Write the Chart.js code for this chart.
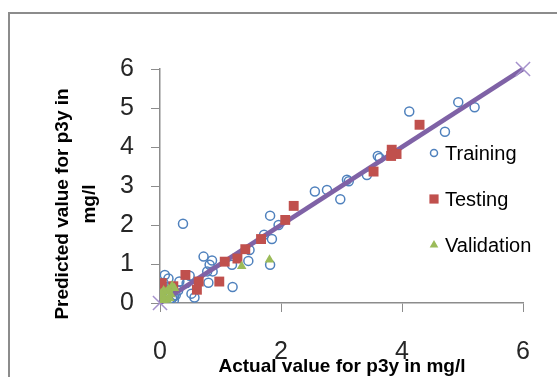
<!DOCTYPE html>
<html>
<head>
<meta charset="utf-8">
<script src="https://cdn.jsdelivr.net/npm/chart.js@4.4.1/dist/chart.umd.min.js"></script>
<style>
  html, body { margin: 0; padding: 0; background: #fff; }
  body { width: 557px; height: 377px; overflow: hidden; position: relative; }
  #frame { position: absolute; left: 8px; top: 12px; width: 620px; height: 420px; border: 2px solid #8c8c8c; }
  #wrap { position: absolute; left: 0; top: 0; width: 557px; height: 377px; }
</style>
</head>
<body>
<div id="frame"></div>
<div id="wrap"><canvas id="graph"></canvas></div>
<script>
// values
let trainingX = [0.03, 0.05, 0.10, 0.15, 0.20, 0.26, 0.30, 0.08, 0.14, 0.32, 0.06, 0.44, 0.49, 0.52, 0.57, 0.23, 0.23,
  0.72, 0.86, 0.82, 0.78, 0.87, 0.80, 1.20, 1.19, 1.46, 1.48, 1.72, 1.82, 1.85, 1.96, 1.82, 0.38,
  2.56, 2.76, 2.98, 3.09, 3.12, 3.42, 3.60, 3.63, 4.12, 4.71, 4.93, 5.20];
let trainingY = [0.45, 0.30, 0.20, 0.05, 0.12, 0.20, 0.32, 0.72, 0.63, 0.55, 0.51, 0.51, 0.70, 0.24, 0.14, 0.08, 0.17,
  1.19, 1.09, 0.98, 0.81, 0.81, 0.52, 0.41, 0.98, 1.08, 1.36, 1.75, 2.24, 1.64, 2.00, 0.98, 2.03,
  2.86, 2.90, 2.66, 3.16, 3.12, 3.28, 3.77, 3.72, 4.91, 4.39, 5.15, 5.02];

let testingX = [0.00, 0.03, 0.00, 0.22, 0.42, 0.64, 0.61, 0.98, 1.07, 1.28, 1.41, 1.67, 2.07, 2.21, 3.53, 3.83, 3.91, 3.82, 4.29];
let testingY = [0.38, 0.51, 0.15, 0.43, 0.72, 0.55, 0.34, 0.55, 1.06, 1.14, 1.38, 1.64, 2.13, 2.49, 3.37, 3.93, 3.82, 3.77, 4.57];

let validationX = [0.00, 0.02, 0.05, 0.04, 0.08, 0.10, 0.12, 0.14, 0.18, 0.20, 0.24, 0.06, 0.02, 0.16, 1.35, 1.81];
let validationY = [0.02, 0.10, 0.05, 0.20, 0.14, 0.28, 0.08, 0.35, 0.22, 0.44, 0.38, 0.32, 0.25, 0.12, 0.94, 1.11];

let lineX = [0, 6];
let lineY = [0, 6];

let xTicks = [0, 2, 4, 6];
let yTicks = [0, 1, 2, 3, 4, 5, 6];

let seriesNames = ["Training", "Testing", "Validation"];
let xTitle = "Actual value for p3y in mg/l";
let yTitle = ["Predicted value for p3y in", "mg/l"];

function toPoints(xs, ys) {
  return xs.map((x, i) => ({ x: x, y: ys[i] }))
}

const axisGray = '#8c8c8c';
const blue = '#4f81bd';
const red = '#c0504d';
const green = '#9bbb59';
const purple = '#7f62a6';

let legendStyles = [
  { pointStyle: 'circle', radius: 3.5, fill: null, stroke: blue },
  { pointStyle: 'rect', radius: 6.5, fill: red, stroke: red },
  { pointStyle: 'triangle', radius: 5, fill: green, stroke: green }
];

const extraText = {
  id: 'extraText',
  afterDraw(chart) {
    const ctx = chart.ctx;
    ctx.save();
    ctx.fillStyle = '#000';
    ctx.font = 'bold 19px "Liberation Sans"';
    ctx.textAlign = 'center';
    ctx.textBaseline = 'middle';
    // y title, two lines rotated
    ctx.save();
    ctx.translate(63, 204);
    ctx.rotate(-Math.PI / 2);
    yTitle.forEach((t, i) => ctx.fillText(t, 0, i * 27));
    ctx.restore();
    // x title
    ctx.fillText(xTitle, 342, 367);

    // legend
    ctx.font = '20px "Liberation Sans"';
    ctx.textAlign = 'left';
    seriesNames.forEach((name, i) => {
      const y = 153 + i * 46;
      const s = legendStyles[i];
      ctx.save();
      ctx.lineWidth = 1.5;
      ctx.strokeStyle = s.stroke;
      ctx.fillStyle = s.fill || 'rgba(0,0,0,0)';
      Chart.helpers.drawPoint(ctx, { pointStyle: s.pointStyle, radius: s.radius, rotation: 0, borderWidth: s.fill ? 0 : 1.5 }, 434, y);
      ctx.restore();
      ctx.fillStyle = '#000';
      ctx.fillText(name, 445, y + 1);
    });
    ctx.restore();
  }
};

let ctx = document.getElementById('graph').getContext('2d');
let graph = new Chart(ctx, {
  type: 'scatter',
  data: {
    datasets: [
      {
        label: seriesNames[0],
        data: toPoints(trainingX, trainingY),
        pointStyle: 'circle',
        pointRadius: 4.5,
        pointHoverRadius: 4.5,
        pointBackgroundColor: 'rgba(255,255,255,0)',
        pointBorderColor: blue,
        pointBorderWidth: 1.5,
        order: 4
      },
      {
        type: 'line',
        label: 'line',
        data: toPoints(lineX, lineY),
        borderColor: purple,
        borderWidth: 4.5,
        pointStyle: 'crossRot',
        pointRadius: 10,
        pointBorderColor: '#a591cc',
        pointBorderWidth: 1.5,
        clip: false,
        order: 3
      },
      {
        label: seriesNames[1],
        data: toPoints(testingX, testingY),
        pointStyle: 'rect',
        pointRadius: 7,
        pointHoverRadius: 7,
        pointBackgroundColor: red,
        pointBorderColor: red,
        pointBorderWidth: 0,
        order: 2
      },
      {
        label: seriesNames[2],
        data: toPoints(validationX, validationY),
        pointStyle: 'triangle',
        pointRadius: 5.5,
        pointHoverRadius: 5.5,
        pointBackgroundColor: green,
        pointBorderColor: green,
        pointBorderWidth: 0,
        order: 1
      }
    ]
  },
  options: {
    responsive: true,
    maintainAspectRatio: false,
    animation: false,
    layout: { padding: { top: 69, right: 34, left: 0, bottom: 0 } },
    plugins: {
      legend: { display: false },
      tooltip: { enabled: false }
    },
    scales: {
      x: {
        type: 'linear',
        min: 0,
        max: 6,
        afterBuildTicks: (scale) => { scale.ticks = xTicks.map(v => ({ value: v })) },
        afterFit: (scale) => { scale.height = 74; scale.paddingLeft = 0; scale.paddingRight = 0 },
        ticks: { font: { family: 'Liberation Sans', size: 25 }, color: '#262626', padding: 25 },
        grid: { drawOnChartArea: false, tickLength: 9, color: axisGray, tickColor: axisGray },
        border: { color: axisGray, width: 1.5 }
      },
      y: {
        type: 'linear',
        min: 0,
        max: 6,
        afterBuildTicks: (scale) => { scale.ticks = yTicks.map(v => ({ value: v })) },
        afterFit: (scale) => { scale.width = 160; scale.paddingTop = 0; scale.paddingBottom = 0 },
        ticks: { font: { family: 'Liberation Sans', size: 25 }, color: '#262626', padding: 17 },
        grid: { drawOnChartArea: false, tickLength: 9, color: axisGray, tickColor: axisGray },
        border: { color: axisGray, width: 1.5 }
      }
    }
  },
  plugins: [extraText]
});
</script>
</body>
</html>
